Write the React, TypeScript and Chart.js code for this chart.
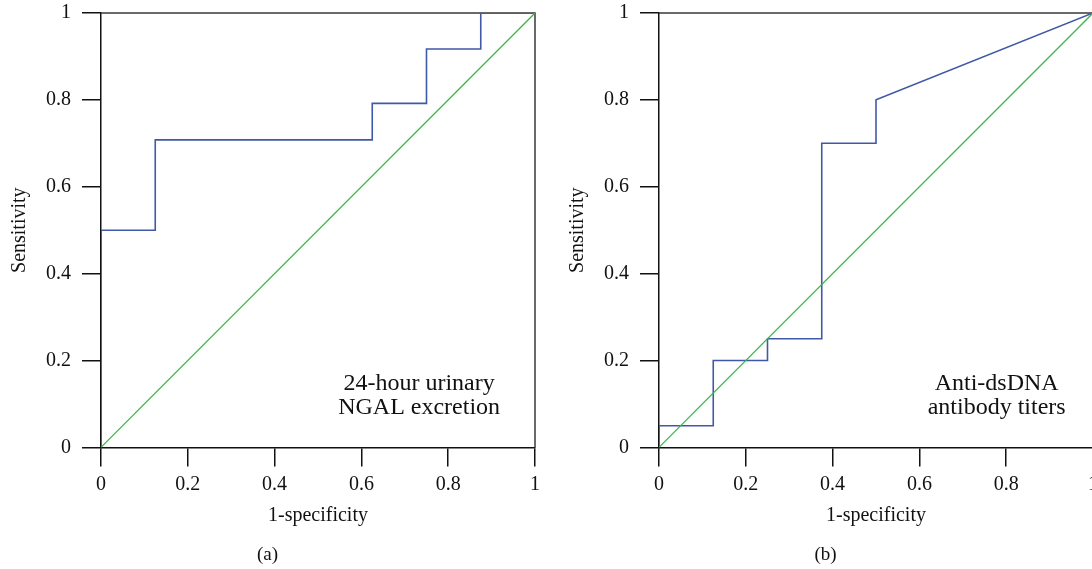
import React, { useEffect, useRef } from 'react';
import { Chart, registerables } from 'chart.js';

Chart.register(...registerables);

// ---- Data ----
const axisTicks = [0, 0.2, 0.4, 0.6, 0.8, 1];
const chanceFpr = [0, 1];
const chanceTpr = [0, 1];

const ngalFpr = [0, 0, 0.125, 0.125, 0.625, 0.625, 0.75, 0.75, 0.875, 0.875, 1];
const ngalTpr = [0, 0.5, 0.5, 0.708, 0.708, 0.792, 0.792, 0.917, 0.917, 1, 1];

const dsdnaFpr = [0, 0, 0.125, 0.125, 0.25, 0.25, 0.375, 0.375, 0.5, 0.5, 1];
const dsdnaTpr = [0, 0.05, 0.05, 0.2, 0.2, 0.25, 0.25, 0.7, 0.7, 0.8, 1];

const ngalLabel = ['24-hour urinary', 'NGAL excretion'];
const dsdnaLabel = ['Anti-dsDNA', 'antibody titers'];
const labelAnchorX = [0.733, 0.778];
const labelLineY = [0.147, 0.092];

const panelLabels = ['(a)', '(b)'];
const xTitle = '1-specificity';
const yTitle = 'Sensitivity';

const BLUE = '#4058a8';
const GREEN = '#3cb54a';
const INK = '#111111';
const FONT = "'Liberation Serif', 'Times New Roman', serif";

const framePlugin = {
  id: 'frame',
  beforeDatasetsDraw(chart: any) {
    const { ctx, chartArea } = chart;
    ctx.save();
    ctx.strokeStyle = '#3a3a3a';
    ctx.lineWidth = 1.5;
    ctx.beginPath();
    ctx.moveTo(chartArea.left, chartArea.top);
    ctx.lineTo(chartArea.right, chartArea.top);
    ctx.lineTo(chartArea.right, chartArea.bottom);
    ctx.stroke();
    ctx.restore();
  },
};

const textPlugin = {
  id: 'cornerText',
  afterDatasetsDraw(chart: any, _args: any, opts: any) {
    const { ctx, scales } = chart;
    const lines: string[] = opts.lines || [];
    ctx.save();
    ctx.font = `24px ${FONT}`;
    ctx.fillStyle = INK;
    ctx.textAlign = 'center';
    ctx.textBaseline = 'middle';
    const px = scales.x.getPixelForValue(opts.x);
    lines.forEach((t, i) => {
      ctx.fillText(t, px, scales.y.getPixelForValue(labelLineY[i]));
    });
    ctx.restore();
  },
};

function makeConfig(fpr: number[], tpr: number[], lines: string[], lx: number, panel: string): any {
  const tickFont = { family: FONT, size: 20 };
  const titleFont = { family: FONT, size: 20 };
  const fmt = (v: any) => {
    const n = Math.round(Number(v) * 10) / 10;
    return axisTicks.some((t) => Math.abs(t - n) < 1e-9) ? String(n) : '';
  };
  return {
    type: 'line',
    data: {
      datasets: [
        {
          label: 'Chance',
          data: chanceFpr.map((x, i) => ({ x, y: chanceTpr[i] })),
          borderColor: GREEN,
          borderWidth: 1.3,
          pointRadius: 0,
          fill: false,
          tension: 0,
        },
        {
          label: 'ROC',
          data: fpr.map((x, i) => ({ x, y: tpr[i] })),
          borderColor: BLUE,
          borderWidth: 1.6,
          pointRadius: 0,
          fill: false,
          tension: 0,
        },
      ],
    },
    options: {
      responsive: false,
      animation: false,
      devicePixelRatio: 1,
      layout: { padding: { left: 0, top: 13, right: 11, bottom: 3 } },
      plugins: {
        legend: { display: false },
        tooltip: { enabled: false },
        title: {
          display: true,
          position: 'bottom',
          text: panel,
          color: INK,
          font: { family: FONT, size: 19, weight: 'normal' },
          padding: { top: 0, bottom: 0 },
        },
        cornerText: { lines, x: lx },
      },
      scales: {
        x: {
          type: 'linear',
          min: 0,
          max: 1,
          afterFit: (s: any) => {
            s.height = 95.8;
            s.paddingLeft = 0;
            s.paddingRight = 0;
          },
          afterBuildTicks: (s: any) => {
            s.ticks = axisTicks.map((v) => ({ value: v }));
          },
          ticks: { font: tickFont, color: INK, padding: 6, maxRotation: 0, callback: fmt },
          grid: { drawOnChartArea: false, drawTicks: true, tickLength: 19, color: INK, lineWidth: 1.5 },
          border: { display: true, color: INK, width: 1.5 },
          title: { display: true, text: xTitle, font: titleFont, color: INK, padding: { top: 0, bottom: 15 } },
        },
        y: {
          type: 'linear',
          min: 0,
          max: 1,
          afterFit: (s: any) => {
            s.width = 101;
            s.paddingTop = 0;
            s.paddingBottom = 0;
          },
          afterBuildTicks: (s: any) => {
            s.ticks = axisTicks.map((v) => ({ value: v }));
          },
          ticks: { font: tickFont, color: INK, padding: 11, callback: fmt },
          grid: { drawOnChartArea: false, drawTicks: true, tickLength: 19, color: INK, lineWidth: 1.5 },
          border: { display: true, color: INK, width: 1.5 },
          title: { display: true, text: yTitle, font: titleFont, color: INK, padding: { top: 7.5, bottom: 0 } },
        },
      },
    },
    plugins: [framePlugin, textPlugin],
  };
}

function RocPanel(props: { fpr: number[]; tpr: number[]; lines: string[]; lx: number; panel: string; left: number }) {
  const ref = useRef<HTMLCanvasElement | null>(null);
  useEffect(() => {
    if (!ref.current) return;
    const chart = new Chart(ref.current, makeConfig(props.fpr, props.tpr, props.lines, props.lx, props.panel));
    return () => chart.destroy();
  }, []);
  return (
    <canvas
      ref={ref}
      width={546}
      height={569}
      style={{ position: 'absolute', left: props.left, top: 0, width: 546, height: 569 }}
    />
  );
}

export default function App() {
  return (
    <div
      style={{
        position: 'fixed',
        left: 0,
        top: 0,
        width: 1092,
        height: 569,
        overflow: 'hidden',
        background: '#ffffff',
      }}
    >
      <RocPanel fpr={ngalFpr} tpr={ngalTpr} lines={ngalLabel} lx={labelAnchorX[0]} panel={panelLabels[0]} left={0} />
      <RocPanel fpr={dsdnaFpr} tpr={dsdnaTpr} lines={dsdnaLabel} lx={labelAnchorX[1]} panel={panelLabels[1]} left={558} />
    </div>
  );
}
